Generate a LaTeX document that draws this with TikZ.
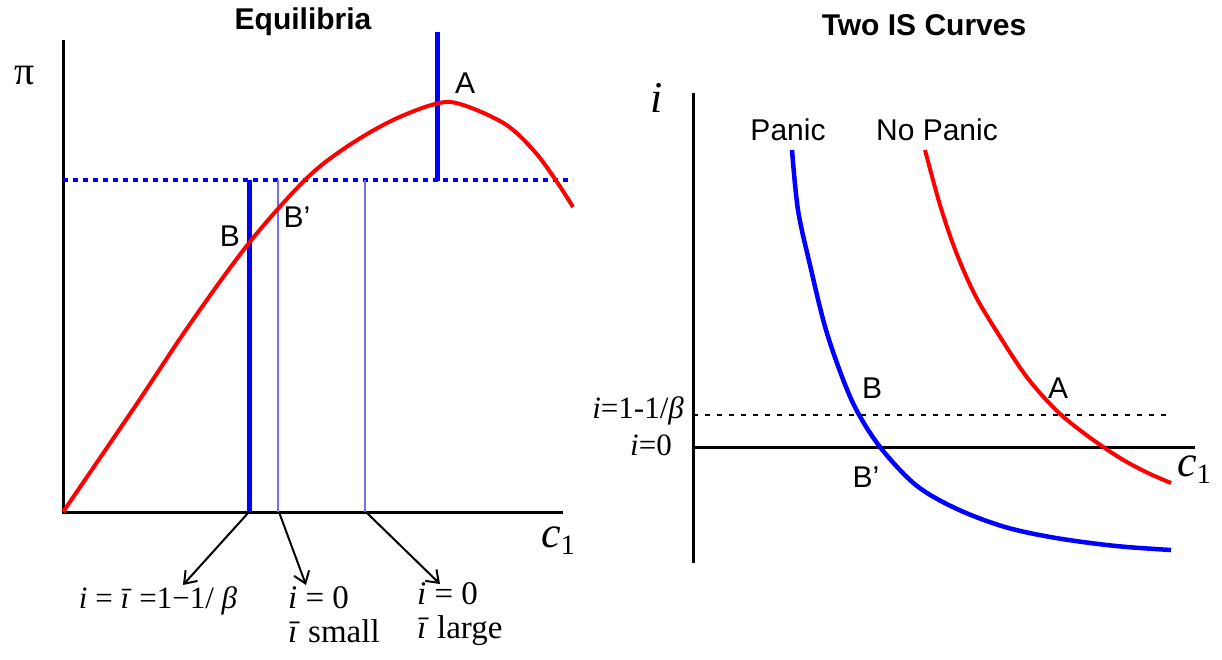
\documentclass[tikz,border=0pt]{standalone}
\usepackage{fontspec}
\setmainfont{Liberation Serif}
\setsansfont{Liberation Sans}
\usetikzlibrary{arrows.meta}
\definecolor{pred}{RGB}{255,0,0}
\definecolor{pblue}{RGB}{0,0,255}
\definecolor{lblue}{RGB}{110,110,255}
\tikzset{
  title/.style={font=\sffamily\bfseries\fontsize{30}{34}\selectfont, inner sep=0pt},
  lab/.style={font=\sffamily\fontsize{30}{34}\selectfont, inner sep=0pt},
  serif/.style={font=\rmfamily\fontsize{33}{36}\selectfont, inner sep=0pt, align=left},
  rserif/.style={font=\rmfamily\fontsize{31}{34}\selectfont, inner sep=0pt, anchor=east},
  big/.style={font=\rmfamily\itshape\fontsize{44}{48}\selectfont, inner sep=0pt},
  axis/.style={line width=3pt, black},
  redcurve/.style={line width=4pt, pred, line join=round},
  bluecurve/.style={line width=4.5pt, pblue, line join=round},
  thickblue/.style={line width=5pt, pblue},
  thinblue/.style={line width=1.2pt, lblue},
  bluedots/.style={line width=4pt, pblue, dash pattern=on 5pt off 5pt},
  blackdots/.style={line width=2.5pt, black, dash pattern=on 5pt off 7pt},
  pointer/.style={line width=2pt, -{Straight Barb[length=11pt,width=16pt,line width=2pt]}}
}
\begin{document}
\begin{tikzpicture}[x=1pt,y=-1pt]
\useasboundingbox (0,0) rectangle (1222,660);
% ---------------- left panel ----------------
\node[title] (t1) at (303,22) {Equilibria};
\node[font=\rmfamily\fontsize{40}{44}\selectfont, inner sep=0pt] (pi) at (25,76) {π};
\coordinate (o1) at (63,512);
\coordinate (ytop1) at (63,40);
\coordinate (xend1) at (563,512);
\draw[axis] (ytop1) -- (o1) -- (xend1);
\node[big] (c1a) at (558,541) {c\textup{\fontsize{28}{30}\selectfont\raisebox{-7pt}{1}}};
% dotted line
\coordinate (d0) at (63,180);
\coordinate (d1) at (573,180);
\draw[bluedots] (d0) -- (d1);
% vertical lines
\coordinate (atop) at (437,32);
\coordinate (abot) at (437,181);
\draw[thickblue] (atop) -- (abot);
\coordinate (btop) at (249,180);
\coordinate (bbot) at (249,512);
\draw[thickblue] (btop) -- (bbot);
\coordinate (s1top) at (278,180);
\coordinate (s1bot) at (278,512);
\draw[thinblue] (s1top) -- (s1bot);
\coordinate (s2top) at (365,180);
\coordinate (s2bot) at (365,512);
\draw[thinblue] (s2top) -- (s2bot);
% red curve
\draw[redcurve] plot[smooth, tension=0.55] coordinates {(63,512) (134,408) (190,324) (249,243) (305,180) (345,148) (391,121) (435,104) (460,104) (505,124) (535,152) (557,182) (573,207)};
\node[lab] (A1) at (465,83) {A};
\node[lab] (B1) at (230,236) {B};
\node[lab] (Bp1) at (297,217) {B’};
% labels below
\node[serif, font=\rmfamily\fontsize{31}{34}\selectfont] (L1) at (158,601) {\textit{i} = \textit{ī} =1−1/ \textit{β}};
\node[serif, anchor=north west] (L2) at (288,586) {\textit{i} = 0\\[-2pt]\textit{ī} small};
\node[serif, anchor=north west] (L3) at (417,582) {\textit{i} = 0\\[-2pt]\textit{ī} large};
\coordinate (p1) at (249,512);
\coordinate (p2) at (279,512);
\coordinate (p3) at (366,512);
\draw[pointer] (p1) -- (183,585);
\draw[pointer] (p2) -- (306,585);
\draw[pointer] (p3) -- (440,584);
% ---------------- right panel ----------------
\node[title] (t2) at (924,25) {Two IS Curves};
\node[big] (ilab) at (657,98) {i};
\coordinate (ytop2) at (693,93);
\coordinate (ybot2) at (693,563);
\draw[axis] (ytop2) -- (ybot2);
\coordinate (x0) at (693,447);
\coordinate (xend2) at (1195,447);
\draw[axis] (x0) -- (xend2);
\node[big] (c1b) at (1194,470) {c\textup{\fontsize{28}{30}\selectfont\raisebox{-7pt}{1}}};
\coordinate (dd0) at (693,415);
\coordinate (dd1) at (1167,415);
\draw[blackdots] (dd0) -- (dd1);
\node[rserif] (ib) at (684,411) {\textit{i}=1-1/\textit{β}};
\node[rserif] (i0) at (672,445) {\textit{i}=0};
\node[lab] (panic) at (788,130) {Panic};
\node[lab] (nopanic) at (937,130) {No Panic};
\draw[bluecurve] plot[smooth, tension=0.55] coordinates {(792,150) (798,210) (810,265) (826,330) (846,387) (862,420) (884,452) (917,486) (957,509) (1005,527) (1056,538) (1116,546) (1171,550)};
\draw[redcurve] plot[smooth, tension=0.55] coordinates {(925,150) (940,205) (956,252) (975,295) (997,332) (1026,376) (1056,410) (1085,434) (1120,458) (1148,473) (1171,483)};
\node[lab] (B2) at (872,388) {B};
\node[lab] (A2) at (1058,388) {A};
\node[lab] (Bp2) at (866,477) {B’};
\end{tikzpicture}
\end{document}
